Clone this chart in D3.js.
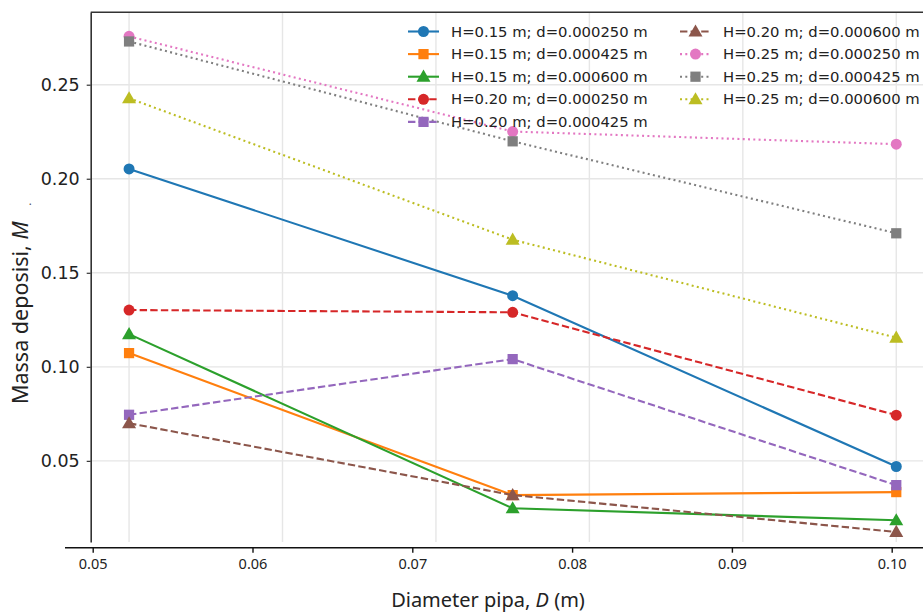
<!DOCTYPE html>
<html>
<head>
<meta charset="utf-8">
<script src="https://cdn.jsdelivr.net/npm/d3@7"></script>
<style>
  body { margin: 0; background: #fff; }
  svg { display: block; }
</style>
</head>
<body>
<div id="chart"></div>
<script>
// Pipe diameters (m) and deposited mass for each H / d combination
const diameters = [0.05, 0.075, 0.10];
const seriesLabels = [
  "H=0.15 m; d=0.000250 m",
  "H=0.15 m; d=0.000425 m",
  "H=0.15 m; d=0.000600 m",
  "H=0.20 m; d=0.000250 m",
  "H=0.20 m; d=0.000425 m",
  "H=0.20 m; d=0.000600 m",
  "H=0.25 m; d=0.000250 m",
  "H=0.25 m; d=0.000425 m",
  "H=0.25 m; d=0.000600 m"
];
const massH015d250 = [0.2052, 0.1378, 0.0470];
const massH015d425 = [0.1073, 0.0318, 0.0334];
const massH015d600 = [0.1174, 0.0248, 0.0184];
const massH020d250 = [0.1302, 0.1290, 0.0743];
const massH020d425 = [0.0745, 0.1041, 0.0371];
const massH020d600 = [0.0700, 0.0318, 0.0122];
const massH025d250 = [0.2757, 0.2251, 0.2184];
const massH025d425 = [0.2730, 0.2199, 0.1710];
const massH025d600 = [0.2428, 0.1676, 0.1155];
const yTicks = [0.05, 0.10, 0.15, 0.20, 0.25];
const xTicks = [0.05, 0.06, 0.07, 0.08, 0.09, 0.10];
const gridX = [0.05, 0.06, 0.07, 0.08, 0.09, 0.10];

const allMass = [massH015d250, massH015d425, massH015d600,
                 massH020d250, massH020d425, massH020d600,
                 massH025d250, massH025d425, massH025d600];

const colors = ["#1f77b4", "#ff7f0e", "#2ca02c", "#d62728", "#9467bd",
                "#8c564b", "#e377c2", "#7f7f7f", "#bcbd22"];
const shapes = ["circle", "square", "triangle"];
const dashes = [null, "7.4,3.2", "2,3.3"]; // solid / dashed / dotted by H

const W = 923, H = 612;
const plotLeft = 90.7, plotTop = 12.3, plotBottom = 542;

const svg = d3.select("#chart").append("svg")
  .attr("width", W).attr("height", H);

// inner scale used for the data and grid
const x = d3.scaleLinear().domain([0.0475, 0.1025]).range([plotLeft, plotLeft + 0.055 * 15344]);
const y = d3.scaleLinear().domain([0.00686, 0.2885]).range([plotBottom, plotTop]);
// bottom axis as shown in the figure
const xAxisScale = d3.scaleLinear().domain([0.05, 0.10]).range([92.7, 891.7]);

// grid
const grid = svg.append("g");
grid.selectAll(".gx").data(gridX).enter().append("line")
  .attr("x1", d => x(d)).attr("x2", d => x(d))
  .attr("y1", plotTop).attr("y2", plotBottom)
  .attr("stroke", "#e6e6e6").attr("stroke-width", 1.4);
grid.selectAll(".gy").data(yTicks).enter().append("line")
  .attr("x1", plotLeft).attr("x2", W)
  .attr("y1", d => y(d)).attr("y2", d => y(d))
  .attr("stroke", "#e6e6e6").attr("stroke-width", 1.4);

// symbols
const symbolOf = {
  circle: d3.symbol().type(d3.symbolCircle).size(95),
  square: d3.symbol().type(d3.symbolSquare).size(105),
  triangle: d3.symbol().type(d3.symbolTriangle).size(85)
};

const line = d3.line().x((d, i) => x(diameters[i])).y(d => y(d));

const plot = svg.append("g");
allMass.forEach((vals, s) => {
  const g = plot.append("g");
  g.append("path")
    .datum(vals)
    .attr("d", line)
    .attr("fill", "none")
    .attr("stroke", colors[s])
    .attr("stroke-width", 2.1)
    .attr("stroke-dasharray", dashes[Math.floor(s / 3)]);
  g.selectAll("path.m").data(vals).enter().append("path")
    .attr("class", "m")
    .attr("d", symbolOf[shapes[s % 3]])
    .attr("transform", (d, i) => `translate(${x(diameters[i])},${y(d) + (shapes[s % 3] === "triangle" ? 1 : 0)})`)
    .attr("fill", colors[s]);
});

// spines
svg.append("line").attr("x1", plotLeft).attr("x2", W).attr("y1", plotTop).attr("y2", plotTop)
  .attr("stroke", "#333").attr("stroke-width", 1.6);

const yAxis = svg.append("g")
  .attr("transform", `translate(${plotLeft},0)`)
  .call(d3.axisLeft(y).tickValues(yTicks).tickFormat(d3.format(".2f")).tickSize(4).tickSizeOuter(0).tickPadding(7));
yAxis.select(".domain").attr("stroke", "#333").attr("stroke-width", 1.6);
yAxis.selectAll(".tick line").attr("stroke", "#333").attr("stroke-width", 1.2);
yAxis.selectAll(".tick text")
  .attr("font-family", "DejaVu Sans").attr("font-size", 17.5).attr("fill", "#222");

const xAxis = svg.append("g")
  .attr("transform", `translate(0,547.7)`)
  .call(d3.axisBottom(xAxisScale).tickValues(xTicks).tickFormat(d3.format(".2f")).tickSize(5).tickSizeOuter(0).tickPadding(6));
xAxis.select(".domain").attr("d", `M65,0H${W}`).attr("stroke", "#111").attr("stroke-width", 1.6);
xAxis.selectAll(".tick line").attr("stroke", "#111").attr("stroke-width", 1.4);
xAxis.selectAll(".tick text")
  .attr("font-family", "Noto Sans").attr("font-size", 14.5).attr("fill", "#222");

// axis labels
svg.append("text")
  .attr("x", 488).attr("y", 607)
  .attr("text-anchor", "middle")
  .attr("font-family", "Noto Sans").attr("font-size", 20).attr("fill", "#222")
  .html('Diameter pipa, <tspan font-style="italic">D</tspan> (m)');

const yl = svg.append("text")
  .attr("transform", "translate(28,404) rotate(-90)")
  .attr("text-anchor", "start")
  .attr("font-family", "Noto Sans").attr("font-size", 21.5).attr("fill", "#222");
yl.append("tspan").text("Massa deposisi, ");
yl.append("tspan").attr("font-style", "italic").text("M");
yl.append("tspan").attr("font-size", 10).attr("dx", 16).attr("dy", 3).text(".");

// legend (two columns, no frame)
const legend = svg.append("g");
const rowH = 22.6;
seriesLabels.forEach((lab, s) => {
  const col = s < 5 ? 0 : 1;
  const row = s < 5 ? s : s - 5;
  const lx = col === 0 ? 408 : 680;
  const ly = 31.5 + row * rowH;
  const g = legend.append("g").attr("transform", `translate(${lx},${ly})`);
  g.append("line").attr("x1", 0).attr("x2", 31).attr("y1", 0).attr("y2", 0)
    .attr("stroke", colors[s]).attr("stroke-width", 2.1)
    .attr("stroke-dasharray", dashes[Math.floor(s / 3)]);
  g.append("path").attr("d", symbolOf[shapes[s % 3]])
    .attr("transform", `translate(15.5,${shapes[s % 3] === "triangle" ? 1 : 0})`)
    .attr("fill", colors[s]);
  g.append("text").attr("x", 43).attr("y", 0).attr("dy", "0.35em")
    .attr("font-family", "DejaVu Sans").attr("font-size", 14.8).attr("fill", "#222")
    .text(lab);
});
</script>
</body>
</html>
